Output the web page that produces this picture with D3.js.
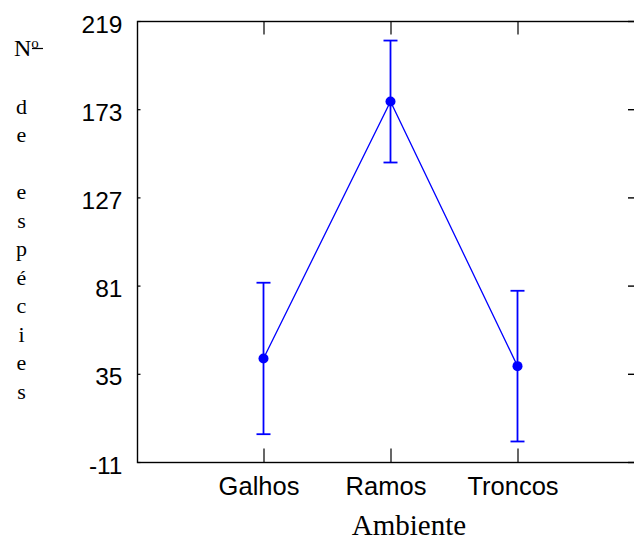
<!DOCTYPE html>
<html>
<head>
<meta charset="utf-8">
<script src="https://cdn.jsdelivr.net/npm/d3@7/dist/d3.min.js"></script>
<style>
  html, body { margin: 0; padding: 0; background: #fff; }
  svg { display: block; }
</style>
</head>
<body>
<div id="chart"></div>
<script>
// Number of species per environment: mean with error bar
const categories = ["Galhos", "Ramos", "Troncos"];
const means = [43, 177, 39];
const errors = [39.5, 31.8, 39.3];
const yTicks = [-11, 35, 81, 127, 173, 219];
const yTitle = [" ", "d", "e", " ", "e", "s", "p", "é", "c", "i", "e", "s"];
const xTitle = "Ambiente";

const W = 634, H = 540;
const margin = { left: 137, top: 21, right: 0, bottom: 78 };
const plotL = margin.left, plotR = W, plotT = margin.top, plotB = H - margin.bottom;

const svg = d3.select("#chart").append("svg")
  .attr("width", W).attr("height", H);

const y = d3.scaleLinear().domain([-11, 219]).range([plotB, plotT]);
const x = d3.scalePoint().domain(categories).range([plotL + 126.5, plotL + 380.5]);

const sans = "Liberation Sans, Arial, sans-serif";
const serif = "Liberation Serif, Times New Roman, serif";

// frame
svg.append("rect")
  .attr("x", plotL + 0.5).attr("y", plotT + 0.5)
  .attr("width", plotR - plotL + 2).attr("height", plotB - plotT)
  .attr("fill", "none").attr("stroke", "#000").attr("stroke-width", 1.4);

// left axis with labels
const yAxis = d3.axisLeft(y).tickValues(yTicks).tickSize(-3).tickPadding(15)
  .tickFormat(d => String(d));
const gy = svg.append("g").attr("transform", `translate(${plotL + 0.5},0)`).call(yAxis);
gy.select(".domain").remove();
gy.selectAll("line").attr("stroke", "#000").attr("stroke-width", 1.2);
gy.selectAll("text")
  .attr("font-family", sans)
  .attr("font-size", 24.5).attr("fill", "#000").attr("dy", "0.45em");

// right-side ticks
const gyr = svg.append("g").attr("transform", `translate(${plotR},0)`)
  .call(d3.axisRight(y).tickValues(yTicks).tickSize(-6).tickFormat(""));
gyr.select(".domain").remove();
gyr.selectAll("line").attr("stroke", "#000").attr("stroke-width", 1.4);

// bottom axis
const gx = svg.append("g").attr("transform", `translate(0,${plotB + 0.5})`)
  .call(d3.axisBottom(x).tickSize(-14).tickPadding(0));
gx.select(".domain").remove();
gx.selectAll("line").attr("stroke", "#000").attr("stroke-width", 1.2);
gx.selectAll("text")
  .attr("font-family", sans)
  .attr("font-size", 25.5).attr("fill", "#000")
  .attr("y", 32).attr("dy", 0).attr("dx", -5);

// top ticks
const gxt = svg.append("g").attr("transform", `translate(0,${plotT + 0.5})`)
  .call(d3.axisTop(x).tickSize(-13).tickFormat(""));
gxt.select(".domain").remove();
gxt.selectAll("line").attr("stroke", "#000").attr("stroke-width", 1.2);

// data
const data = categories.map((c, i) => ({ c, m: means[i], e: errors[i] }));
const blue = "#0000ff";

svg.append("path")
  .datum(data)
  .attr("fill", "none").attr("stroke", blue).attr("stroke-width", 1.3)
  .attr("d", d3.line().x(d => x(d.c)).y(d => y(d.m)));

const eb = svg.append("g").selectAll("g").data(data).join("g")
  .attr("stroke", blue).attr("stroke-width", 1.8);
eb.append("line")
  .attr("x1", d => x(d.c)).attr("x2", d => x(d.c))
  .attr("y1", d => y(d.m + d.e)).attr("y2", d => y(d.m - d.e));
eb.append("line")
  .attr("x1", d => x(d.c) - 7).attr("x2", d => x(d.c) + 7)
  .attr("y1", d => y(d.m + d.e)).attr("y2", d => y(d.m + d.e));
eb.append("line")
  .attr("x1", d => x(d.c) - 7).attr("x2", d => x(d.c) + 7)
  .attr("y1", d => y(d.m - d.e)).attr("y2", d => y(d.m - d.e));

svg.append("g").selectAll("circle").data(data).join("circle")
  .attr("cx", d => x(d.c)).attr("cy", d => y(d.m)).attr("r", 5)
  .attr("fill", blue);

// x-axis title
svg.append("text")
  .attr("x", 409).attr("y", 535)
  .attr("text-anchor", "middle")
  .attr("font-family", serif)
  .attr("font-size", 29).attr("fill", "#000")
  .text(xTitle);

// y-axis title, written one character per line: "Nº de espécies"
const nTitle = svg.append("text")
  .attr("x", 14).attr("y", 56)
  .attr("font-family", serif).attr("font-size", 24).attr("fill", "#000");
nTitle.append("tspan").text("N");
nTitle.append("tspan").attr("font-size", 15).attr("dy", -8).text("o");
svg.append("line")
  .attr("x1", 32).attr("x2", 43).attr("y1", 48.5).attr("y2", 48.5)
  .attr("stroke", "#000").attr("stroke-width", 1.2);

svg.append("g").selectAll("text").data(yTitle).join("text")
  .attr("x", 21.5).attr("y", (d, i) => 85 + i * 28.5)
  .attr("text-anchor", "middle")
  .attr("font-family", serif)
  .attr("font-size", 22).attr("fill", "#000")
  .text(d => d);
</script>
</body>
</html>
